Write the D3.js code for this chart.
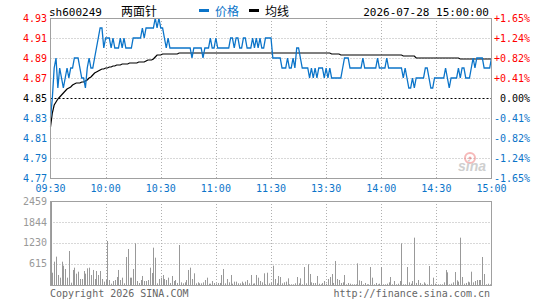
<!DOCTYPE html>
<html>
<head>
  <title>sh600249 两面针 分时图</title>
  <script src="https://d3js.org/d3.v7.min.js"></script>
  <style>
    body { margin: 0; background: #fff; }
    text { font-family: "DejaVu Sans Mono", monospace; font-size: 10px; }
    .cjk { font-family: "Noto Sans CJK SC", sans-serif; font-size: 12px; }
  </style>
</head>
<body>
  <svg id="chart" width="545" height="300"></svg>

  <script>
    // minute prices, 09:30 .. 11:30 / 13:00 .. 15:00 (241 points)
    const price = [
      4.83,4.85,4.88,4.89,4.86,4.88,4.87,4.86,4.87,4.88,
      4.87,4.88,4.88,4.89,4.89,4.89,4.88,4.87,4.87,4.86,
      4.88,4.89,4.88,4.88,4.89,4.90,4.91,4.92,4.92,4.90,
      4.91,4.91,4.91,4.90,4.91,4.90,4.90,4.90,4.91,4.90,
      4.91,4.90,4.90,4.90,4.90,4.91,4.91,4.91,4.91,4.91,
      4.92,4.91,4.92,4.92,4.92,4.92,4.92,4.93,4.92,4.93,
      4.92,4.92,4.91,4.90,4.91,4.90,4.90,4.90,4.90,4.90,
      4.90,4.90,4.90,4.90,4.90,4.90,4.90,4.89,4.90,4.90,
      4.90,4.90,4.90,4.89,4.90,4.90,4.90,4.91,4.90,4.90,
      4.91,4.90,4.90,4.90,4.90,4.90,4.90,4.90,4.91,4.91,
      4.90,4.91,4.91,4.90,4.90,4.91,4.91,4.90,4.90,4.90,
      4.91,4.90,4.91,4.90,4.91,4.90,4.90,4.91,4.91,4.91,
      4.91,4.89,4.89,4.89,4.89,4.89,4.88,4.88,4.88,4.89,
      4.88,4.88,4.89,4.88,4.90,4.90,4.89,4.88,4.88,4.88,
      4.88,4.87,4.88,4.87,4.88,4.87,4.88,4.88,4.88,4.87,
      4.88,4.87,4.88,4.87,4.87,4.87,4.87,4.87,4.87,4.88,
      4.89,4.89,4.89,4.88,4.88,4.88,4.88,4.88,4.88,4.88,
      4.89,4.88,4.88,4.88,4.88,4.88,4.88,4.88,4.89,4.88,
      4.88,4.88,4.88,4.89,4.88,4.88,4.88,4.88,4.88,4.88,
      4.88,4.88,4.87,4.88,4.87,4.86,4.86,4.87,4.86,4.87,
      4.87,4.87,4.87,4.87,4.88,4.88,4.87,4.86,4.86,4.87,
      4.87,4.87,4.87,4.87,4.87,4.88,4.87,4.86,4.87,4.87,
      4.87,4.87,4.88,4.87,4.88,4.88,4.87,4.87,4.87,4.88,
      4.89,4.88,4.89,4.89,4.89,4.89,4.88,4.88,4.88,4.88,4.89
    ];

    // average price line
    const avgPrice = [
      4.821,4.835,4.843,4.846,4.849,4.851,4.853,4.855,4.857,4.859,
      4.860,4.861,4.863,4.864,4.865,4.865,4.865,4.866,4.866,4.867,
      4.868,4.870,4.871,4.873,4.875,4.876,4.877,4.878,4.879,4.879,
      4.880,4.880,4.881,4.881,4.882,4.882,4.883,4.883,4.883,4.884,
      4.884,4.884,4.884,4.885,4.885,4.885,4.885,4.885,4.886,4.886,
      4.886,4.886,4.887,4.888,4.888,4.888,4.889,4.891,4.893,4.893,
      4.893,4.894,4.894,4.894,4.894,4.894,4.894,4.894,4.894,4.894,
      4.895,4.895,4.895,4.895,4.895,4.895,4.895,4.895,4.895,4.895,
      4.895,4.895,4.895,4.895,4.895,4.895,4.895,4.895,4.895,4.895,
      4.895,4.895,4.895,4.895,4.895,4.895,4.895,4.895,4.895,4.895,
      4.895,4.895,4.895,4.895,4.895,4.895,4.895,4.895,4.895,4.895,
      4.895,4.895,4.895,4.895,4.895,4.895,4.895,4.895,4.895,4.895,
      4.895,4.895,4.895,4.895,4.895,4.895,4.895,4.895,4.895,4.895,
      4.895,4.895,4.895,4.895,4.895,4.895,4.895,4.895,4.895,4.895,
      4.895,4.895,4.895,4.895,4.895,4.895,4.895,4.895,4.895,4.895,
      4.895,4.895,4.895,4.894,4.894,4.894,4.894,4.894,4.893,4.893,
      4.893,4.893,4.893,4.893,4.893,4.893,4.893,4.893,4.893,4.893,
      4.893,4.893,4.893,4.893,4.893,4.893,4.893,4.893,4.893,4.893,
      4.893,4.893,4.893,4.893,4.893,4.893,4.893,4.893,4.893,4.893,
      4.893,4.893,4.892,4.892,4.892,4.892,4.892,4.892,4.892,4.890,
      4.890,4.890,4.890,4.890,4.890,4.890,4.890,4.890,4.890,4.890,
      4.890,4.890,4.890,4.890,4.890,4.890,4.890,4.890,4.890,4.890,
      4.890,4.890,4.890,4.889,4.889,4.889,4.889,4.889,4.889,4.889,
      4.889,4.889,4.889,4.889,4.889,4.889,4.889,4.889,4.889,4.889,4.889
    ];

    // minute volume (lots)
    const volume = [
      2459,360,683,830,293,215,683,566,468,215,
      995,68,440,508,332,390,176,176,410,332,
      488,508,293,440,176,410,293,410,176,98,
      146,1288,146,39,117,146,234,440,146,215,
      49,820,1054,215,215,468,1220,117,59,146,
      264,117,117,146,508,351,1093,800,49,176,
      215,293,176,146,215,59,264,117,146,59,
      1171,78,49,78,146,440,508,176,342,49,
      78,49,49,78,146,215,39,39,117,59,
      49,59,59,293,468,49,176,78,293,39,
      98,98,49,49,98,49,98,146,49,293,
      39,49,293,215,117,78,342,20,
      360,49,68,566,176,49,264,234,49,78,
      98,195,20,20,20,49,234,49,195,20,
      527,49,605,322,78,59,59,264,39,20,
      59,117,39,176,234,322,59,703,176,146,
      59,78,293,20,59,39,20,20,20,634,
      137,117,20,59,20,20,527,215,20,59,
      20,39,527,20,20,39,78,234,20,117,
      20,39,117,1220,20,20,527,78,39,117,
      1386,59,146,59,20,78,39,20,556,20,
      215,39,20,20,20,20,78,440,371,20,
      39,78,380,137,98,1386,234,39,59,98,
      78,390,78,117,146,146,146,820,322,20,
      39,20,0
    ];

    const timeLabels = ["09:30", "10:00", "10:30", "11:00", "11:30", "13:30", "14:00", "14:30", "15:00"];
    const priceTicks = [4.77, 4.79, 4.81, 4.83, 4.85, 4.87, 4.89, 4.91, 4.93];
    const pctTicks = ["-1.65%", "-1.24%", "-0.82%", "-0.41%", "0.00%", "+0.41%", "+0.82%", "+1.24%", "+1.65%"];
    const volTicks = [615, 1230, 1844, 2459];
    const preClose = 4.85;

    const red = "#ff0000", blue = "#0b74c9", grid = "#b0b0b0", frame = "#a0a0a0";

    const svg = d3.select("#chart");

    const x = d3.scaleLinear().domain([0, 240]).range([50.5, 491.5]);
    const y = d3.scaleLinear().domain([4.77, 4.93]).range([178, 18]);
    const yVol = d3.scaleLinear().domain([0, 2459]).range([285, 201]);

    function labelColor(v) {
      if (Math.abs(v - preClose) < 1e-6) return "#000";
      return v > preClose ? red : blue;
    }

    // header
    svg.append("text").attr("x", 49).attr("y", 16).style("font-size", "11px").text("sh600249");
    svg.append("text").attr("class", "cjk").attr("x", 121).attr("y", 16).text("两面针");
    svg.append("rect").attr("x", 199).attr("y", 9).attr("width", 10).attr("height", 3).attr("fill", blue);
    svg.append("text").attr("class", "cjk").attr("x", 215).attr("y", 16).attr("fill", blue).text("价格");
    svg.append("rect").attr("x", 249).attr("y", 9).attr("width", 10).attr("height", 3).attr("fill", "#000");
    svg.append("text").attr("class", "cjk").attr("x", 265).attr("y", 16).text("均线");
    svg.append("text").attr("x", 489).attr("y", 16).attr("text-anchor", "end").style("font-size", "11px")
      .text("2026-07-28 15:00:00");

    // grid, price panel
    const gridG = svg.append("g");
    priceTicks.forEach(v => {
      if (v === 4.77 || v === 4.93) return;
      gridG.append("line")
        .attr("x1", x(0)).attr("x2", x(240))
        .attr("y1", Math.round(y(v)) + 0.5).attr("y2", Math.round(y(v)) + 0.5)
        .attr("stroke", v === preClose ? "#000" : grid)
        .attr("stroke-dasharray", v === preClose ? "2,2" : "1,2");
    });
    volTicks.slice(0, 3).forEach(v => {
      gridG.append("line")
        .attr("x1", x(0)).attr("x2", x(240))
        .attr("y1", Math.round(yVol(v)) + 0.5).attr("y2", Math.round(yVol(v)) + 0.5)
        .attr("stroke", grid).attr("stroke-dasharray", "1,2");
    });
    for (let k = 1; k < 8; k++) {
      const gx = Math.round(x(k * 30)) + 0.5;
      gridG.append("line").attr("x1", gx).attr("x2", gx).attr("y1", 18).attr("y2", 178)
        .attr("stroke", grid).attr("stroke-dasharray", "1,2");
      gridG.append("line").attr("x1", gx).attr("x2", gx).attr("y1", 201).attr("y2", 285)
        .attr("stroke", grid).attr("stroke-dasharray", "1,2");
    }

    // sina watermark
    const wm = svg.append("g").attr("opacity", 0.55);
    wm.append("circle").attr("cx", 470).attr("cy", 158).attr("r", 5).attr("fill", "none").attr("stroke", "#f08080").attr("stroke-width", 2);
    wm.append("circle").attr("cx", 470).attr("cy", 158).attr("r", 1.5).attr("fill", "#e06060");
    wm.append("text").attr("x", 458).attr("y", 171)
      .style("font-family", "Liberation Sans, sans-serif").style("font-size", "14px")
      .style("font-weight", "bold").style("font-style", "italic").attr("fill", "#a8a8a8").text("sina");

    // volume bars
    svg.append("g").selectAll("rect").data(volume).join("rect")
      .attr("x", (d, i) => Math.round(x(i)))
      .attr("y", d => yVol(d))
      .attr("width", 1)
      .attr("height", d => 285 - yVol(d))
      .attr("fill", "#999");

    // lines
    const line = d3.line().x((d, i) => x(i)).y(d => y(d));
    svg.append("path").datum(avgPrice).attr("d", line)
      .attr("fill", "none").attr("stroke", "#000").attr("stroke-width", 1.2);
    svg.append("path").datum(price).attr("d", line)
      .attr("fill", "none").attr("stroke", blue).attr("stroke-width", 1.3);

    // frames
    svg.append("rect").attr("x", 50.5).attr("y", 18.5).attr("width", 441).attr("height", 160)
      .attr("fill", "none").attr("stroke", frame);
    svg.append("rect").attr("x", 50.5).attr("y", 201.5).attr("width", 441).attr("height", 84)
      .attr("fill", "none").attr("stroke", frame);

    // price labels
    svg.append("g").selectAll("text").data(priceTicks).join("text")
      .attr("x", 47).attr("y", d => y(d)).attr("dy", "0.35em")
      .attr("text-anchor", "end").attr("fill", labelColor)
      .text(d => d.toFixed(2));
    svg.append("g").selectAll("text").data(pctTicks).join("text")
      .attr("x", 530).attr("y", (d, i) => y(priceTicks[i])).attr("dy", "0.35em")
      .attr("text-anchor", "end").attr("fill", (d, i) => labelColor(priceTicks[i]))
      .text(d => d);

    // time labels
    svg.append("g").selectAll("text").data(timeLabels).join("text")
      .attr("x", (d, i) => x(i * 30)).attr("y", 192)
      .attr("text-anchor", "middle").attr("fill", blue)
      .text(d => d);

    // volume labels
    svg.append("g").selectAll("text").data(volTicks).join("text")
      .attr("x", 47).attr("y", d => yVol(d)).attr("dy", "0.35em")
      .attr("text-anchor", "end").attr("fill", "#999")
      .text(d => d);

    // footer
    svg.append("text").attr("x", 50).attr("y", 297).attr("fill", "#666").text("Copyright 2026 SINA.COM");
    svg.append("text").attr("x", 490).attr("y", 297).attr("text-anchor", "end").attr("fill", "#666")
      .text("http://finance.sina.com.cn");
  </script>
</body>
</html>
